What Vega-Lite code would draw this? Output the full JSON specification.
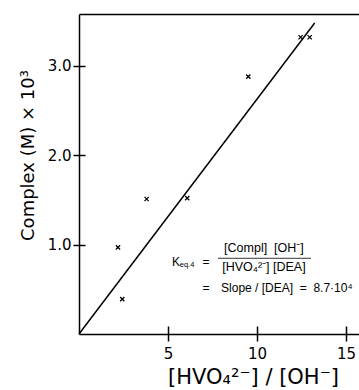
{
  "$schema": "https://vega.github.io/schema/vega-lite/v6.json",
  "width": 280,
  "height": 320,
  "autosize": {"type": "none"},
  "padding": {"left": 79, "top": 14, "right": 0, "bottom": 56},
  "background": "white",
  "data": {"values": [{}]},
  "config": {
    "view": {"stroke": null},
    "axis": {"domainColor": "black", "tickColor": "black", "labelColor": "black", "titleColor": "black", "grid": false}
  },
  "datasets": {
    "points": [
      {"ratio": 2.19, "complex": 0.97},
      {"ratio": 2.43, "complex": 0.39},
      {"ratio": 3.80, "complex": 1.51},
      {"ratio": 6.08, "complex": 1.52},
      {"ratio": 9.51, "complex": 2.88},
      {"ratio": 12.45, "complex": 3.32},
      {"ratio": 12.96, "complex": 3.32}
    ],
    "fit": [
      {"ratio": 0, "complex": 0},
      {"ratio": 13.24, "complex": 3.48}
    ]
  },
  "layer": [
    {
      "data": {"name": "points"},
      "mark": {"type": "point", "shape": "M-1,-1L1,1M-1,1L1,-1", "filled": false, "stroke": "black", "strokeWidth": 1.3, "size": 18, "opacity": 1},
      "encoding": {
        "x": {"field": "ratio", "type": "quantitative",
          "scale": {"domain": [0, 15.73], "nice": false, "zero": false},
          "axis": {"orient": "bottom", "values": [5, 10, 15], "tickSize": 7, "tickWidth": 1.5, "domainWidth": 1.5, "labelPadding": 5,
            "labelFont": "DejaVu Sans", "labelFontSize": 15, "labelFlush": false,
            "title": "[HVO₄²⁻] / [OH⁻]", "titleFont": "DejaVu Sans", "titleFontSize": 21, "titleFontWeight": "normal",
            "titleX": 174, "titleY": 43, "titleBaseline": "middle", "titleAnchor": "middle", "titleAlign": "center"}},
        "y": {"field": "complex", "type": "quantitative",
          "scale": {"domain": [0, 3.58], "nice": false, "zero": false},
          "axis": {"orient": "left", "values": [1, 2, 3], "format": ".1f", "tickSize": 6, "tickWidth": 1.5, "domainWidth": 1.5, "labelPadding": 2,
            "labelFont": "DejaVu Sans", "labelFontSize": 15, "labelFlush": false,
            "title": "Complex (M) × 10³", "titleFont": "DejaVu Sans", "titleFontSize": 18, "titleFontWeight": "normal",
            "titleX": -51, "titleY": 141, "titleBaseline": "middle", "titleAngle": -90, "titleAnchor": "middle", "titleAlign": "center"}}
      }
    },
    {
      "data": {"name": "fit"},
      "mark": {"type": "line", "color": "black", "strokeWidth": 1.5},
      "encoding": {
        "x": {"field": "ratio", "type": "quantitative",
          "axis": {"orient": "bottom", "offset": -8, "values": [5, 10, 15], "tickSize": 8, "tickWidth": 1.5, "domain": false, "labels": false, "title": null}},
        "y": {"field": "complex", "type": "quantitative",
          "axis": {"orient": "left", "offset": -6, "values": [1, 2, 3], "tickSize": 6, "tickWidth": 1.5, "domain": false, "labels": false, "title": null}}
      }
    },
    {
      "mark": {"type": "rule", "color": "black", "strokeWidth": 0.8},
      "encoding": {
        "x": {"datum": 7.81, "type": "quantitative",
          "axis": {"orient": "top", "domain": true, "domainWidth": 1.5, "ticks": false, "labels": false, "title": null}},
        "x2": {"datum": 13.03},
        "y": {"datum": 0.847, "type": "quantitative", "axis": null}
      }
    },
    {
      "mark": {"type": "text", "text": "[Compl]\u00a0 [OH⁻]", "font": "Liberation Sans", "fontSize": 12.5, "align": "center", "baseline": "middle", "color": "black"},
      "encoding": {
        "x": {"datum": 10.39, "type": "quantitative", "axis": null},
        "y": {"datum": 0.958, "type": "quantitative", "axis": null}
      }
    },
    {
      "mark": {"type": "text", "text": "[HVO₄²⁻] [DEA]", "font": "Liberation Sans", "fontSize": 12.5, "align": "center", "baseline": "middle", "color": "black"},
      "encoding": {
        "x": {"datum": 10.39, "type": "quantitative", "axis": null},
        "y": {"datum": 0.746, "type": "quantitative", "axis": null}
      }
    },
    {
      "mark": {"type": "text", "text": "K", "font": "Liberation Sans", "fontSize": 12, "align": "left", "baseline": "middle", "color": "black"},
      "encoding": {
        "x": {"datum": 5.22, "type": "quantitative", "axis": null},
        "y": {"datum": 0.80, "type": "quantitative", "axis": null}
      }
    },
    {
      "mark": {"type": "text", "text": "eq.4", "font": "Liberation Sans", "fontSize": 7.5, "align": "left", "baseline": "middle", "color": "black"},
      "encoding": {
        "x": {"datum": 5.66, "type": "quantitative", "axis": null},
        "y": {"datum": 0.772, "type": "quantitative", "axis": null}
      }
    },
    {
      "mark": {"type": "text", "text": "=", "font": "Liberation Sans", "fontSize": 12, "align": "center", "baseline": "middle", "color": "black"},
      "encoding": {
        "x": {"datum": 7.13, "type": "quantitative", "axis": null},
        "y": {"datum": 0.80, "type": "quantitative", "axis": null}
      }
    },
    {
      "mark": {"type": "text", "text": "=", "font": "Liberation Sans", "fontSize": 12, "align": "center", "baseline": "middle", "color": "black"},
      "encoding": {
        "x": {"datum": 7.13, "type": "quantitative", "axis": null},
        "y": {"datum": 0.51, "type": "quantitative", "axis": null}
      }
    },
    {
      "mark": {"type": "text", "text": "Slope / [DEA]\u00a0 =\u00a0 8.7·10⁴", "font": "Liberation Sans", "fontSize": 12, "align": "left", "baseline": "middle", "color": "black"},
      "encoding": {
        "x": {"datum": 7.98, "type": "quantitative", "axis": null},
        "y": {"datum": 0.51, "type": "quantitative", "axis": null}
      }
    }
  ],
  "resolve": {"axis": {"x": "independent", "y": "independent"}}
}
